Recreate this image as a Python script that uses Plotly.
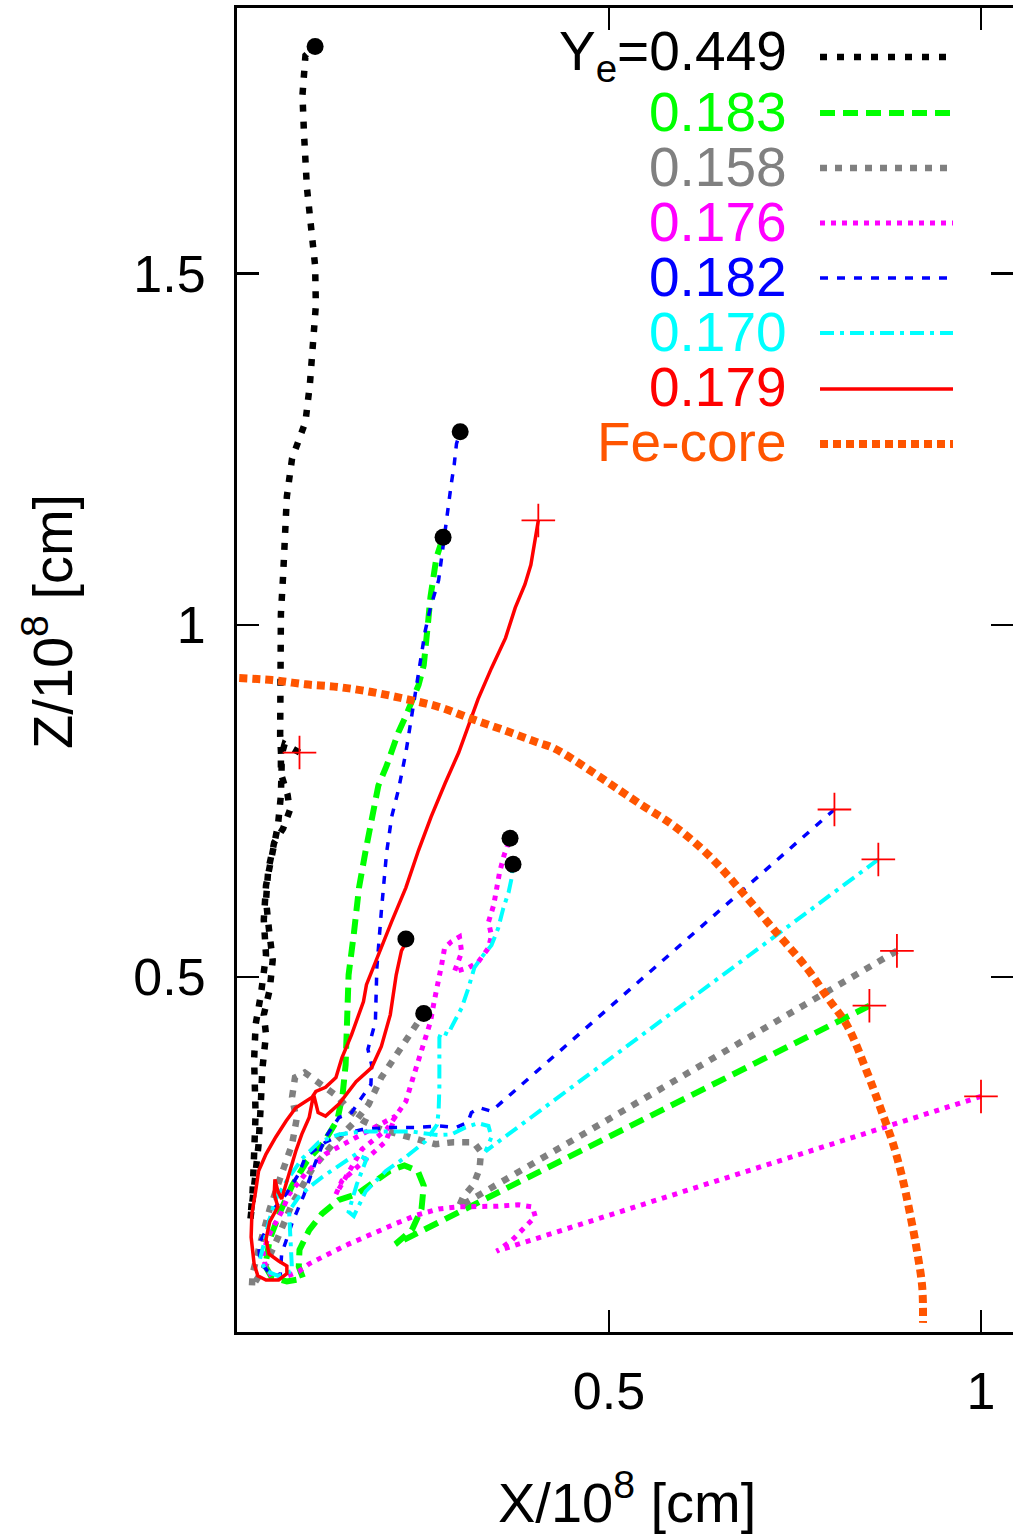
import plotly.graph_objects as go

# ---------------- data (units: 10^8 cm) ----------------
ye_labels = ["Y<sub>e</sub>=0.449", "0.183", "0.158", "0.176", "0.182", "0.170", "0.179"]

traj_0449 = [(0.084, 0.819), (0.064, 0.831), (0.059, 0.812), (0.059, 0.789), (0.068, 0.759), (0.071, 0.737),
             (0.062, 0.711), (0.050, 0.691), (0.042, 0.652), (0.039, 0.609), (0.043, 0.567), (0.048, 0.524),
             (0.044, 0.482), (0.036, 0.446), (0.039, 0.418), (0.034, 0.368), (0.032, 0.319), (0.029, 0.262),
             (0.024, 0.212), (0.020, 0.175), (0.018, 0.155), (0.021, 0.195), (0.023, 0.248), (0.025, 0.305),
             (0.023, 0.382), (0.025, 0.432), (0.032, 0.474), (0.039, 0.531), (0.036, 0.581), (0.039, 0.630),
             (0.047, 0.673), (0.055, 0.715), (0.059, 0.758), (0.060, 0.800), (0.058, 0.843), (0.058, 0.899),
             (0.058, 0.960), (0.059, 1.016), (0.062, 1.071), (0.064, 1.126), (0.067, 1.183), (0.074, 1.237),
             (0.092, 1.289), (0.098, 1.343), (0.102, 1.395), (0.106, 1.455), (0.105, 1.511), (0.099, 1.565),
             (0.094, 1.622), (0.090, 1.700), (0.088, 1.754), (0.092, 1.810), (0.105, 1.823)]

traj_0183 = [(0.850, 0.459), (0.213, 0.120), (0.235, 0.140), (0.248, 0.170), (0.251, 0.203), (0.243, 0.224),
             (0.225, 0.232), (0.205, 0.224), (0.184, 0.208), (0.161, 0.191), (0.137, 0.183), (0.114, 0.163),
             (0.097, 0.140), (0.084, 0.112), (0.083, 0.088), (0.089, 0.071), (0.067, 0.067), (0.047, 0.072),
             (0.038, 0.089), (0.044, 0.127), (0.058, 0.166), (0.074, 0.203), (0.094, 0.238), (0.117, 0.265),
             (0.135, 0.297), (0.142, 0.333), (0.146, 0.375), (0.147, 0.436), (0.150, 0.503), (0.157, 0.561),
             (0.164, 0.627), (0.173, 0.680), (0.181, 0.724), (0.190, 0.772), (0.201, 0.800), (0.208, 0.824),
             (0.217, 0.848), (0.227, 0.871), (0.235, 0.891), (0.244, 0.915), (0.251, 0.943), (0.255, 0.977),
             (0.257, 1.006), (0.260, 1.040), (0.264, 1.072), (0.268, 1.096), (0.277, 1.125)]

traj_0158 = [(0.887, 0.537), (0.311, 0.181), (0.298, 0.173), (0.304, 0.187), (0.318, 0.205), (0.326, 0.227),
             (0.328, 0.251), (0.318, 0.265), (0.291, 0.265), (0.267, 0.262), (0.244, 0.269), (0.219, 0.276),
             (0.194, 0.283), (0.170, 0.295), (0.150, 0.312), (0.135, 0.330), (0.111, 0.350), (0.091, 0.364),
             (0.078, 0.357), (0.074, 0.329), (0.080, 0.297), (0.074, 0.262), (0.060, 0.220), (0.044, 0.170),
             (0.031, 0.120), (0.021, 0.078), (0.020, 0.059), (0.036, 0.085), (0.054, 0.127), (0.074, 0.177),
             (0.101, 0.227), (0.131, 0.265), (0.161, 0.297), (0.177, 0.319), (0.194, 0.357), (0.212, 0.385),
             (0.227, 0.408), (0.240, 0.428), (0.251, 0.448)]

traj_0176 = [(1.000, 0.330), (0.349, 0.110), (0.369, 0.125), (0.387, 0.143), (0.401, 0.159), (0.397, 0.173),
             (0.378, 0.176), (0.351, 0.174), (0.324, 0.174), (0.298, 0.173), (0.271, 0.170), (0.241, 0.161),
             (0.213, 0.149), (0.181, 0.135), (0.150, 0.120), (0.123, 0.106), (0.097, 0.092), (0.083, 0.081),
             (0.066, 0.074), (0.047, 0.074), (0.038, 0.089), (0.035, 0.109), (0.044, 0.135), (0.060, 0.166),
             (0.070, 0.191), (0.092, 0.220), (0.119, 0.248), (0.150, 0.266), (0.181, 0.283), (0.213, 0.302),
             (0.200, 0.266), (0.181, 0.248), (0.160, 0.229), (0.141, 0.210), (0.133, 0.191), (0.168, 0.255),
             (0.201, 0.283), (0.227, 0.323), (0.235, 0.351), (0.244, 0.380), (0.253, 0.408), (0.260, 0.436),
             (0.265, 0.465), (0.271, 0.493), (0.275, 0.517), (0.279, 0.541), (0.288, 0.550), (0.299, 0.557),
             (0.302, 0.535), (0.292, 0.507), (0.311, 0.513), (0.324, 0.521), (0.338, 0.541), (0.342, 0.559),
             (0.338, 0.578), (0.345, 0.602), (0.349, 0.626), (0.353, 0.649), (0.359, 0.673), (0.367, 0.697)]

traj_0182 = [(0.803, 0.738), (0.342, 0.309), (0.326, 0.314), (0.315, 0.307), (0.310, 0.293), (0.295, 0.286),
             (0.271, 0.288), (0.244, 0.286), (0.208, 0.286), (0.168, 0.283), (0.141, 0.276), (0.119, 0.265),
             (0.092, 0.244), (0.083, 0.220), (0.066, 0.191), (0.047, 0.167), (0.039, 0.139), (0.029, 0.120),
             (0.031, 0.095), (0.044, 0.078), (0.058, 0.075), (0.060, 0.106), (0.074, 0.150), (0.090, 0.190),
             (0.105, 0.235), (0.119, 0.272), (0.137, 0.300), (0.154, 0.307), (0.168, 0.329), (0.180, 0.347),
             (0.181, 0.375), (0.176, 0.397), (0.186, 0.436), (0.188, 0.513), (0.194, 0.593), (0.201, 0.676),
             (0.208, 0.728), (0.217, 0.766), (0.227, 0.819), (0.235, 0.871), (0.244, 0.933), (0.253, 0.992),
             (0.260, 1.025), (0.271, 1.064), (0.275, 1.096), (0.284, 1.173), (0.288, 1.201), (0.292, 1.229),
             (0.295, 1.258), (0.300, 1.275)]

traj_0170 = [(0.862, 0.667), (0.334, 0.252), (0.342, 0.272), (0.338, 0.288), (0.324, 0.292), (0.307, 0.286),
             (0.288, 0.276), (0.271, 0.275), (0.235, 0.280), (0.200, 0.280), (0.168, 0.280), (0.137, 0.276),
             (0.110, 0.265), (0.087, 0.241), (0.068, 0.212), (0.052, 0.184), (0.043, 0.153), (0.036, 0.120),
             (0.031, 0.099), (0.039, 0.082), (0.055, 0.075), (0.074, 0.082), (0.072, 0.120), (0.070, 0.167),
             (0.083, 0.187), (0.097, 0.201), (0.114, 0.215), (0.141, 0.234), (0.160, 0.248), (0.174, 0.241),
             (0.161, 0.205), (0.150, 0.166), (0.157, 0.160), (0.173, 0.195), (0.200, 0.224), (0.227, 0.244),
             (0.253, 0.266), (0.269, 0.290), (0.271, 0.309), (0.272, 0.343), (0.272, 0.380), (0.272, 0.414),
             (0.275, 0.422), (0.284, 0.418), (0.288, 0.428), (0.302, 0.456), (0.311, 0.484), (0.319, 0.513),
             (0.328, 0.527), (0.342, 0.545), (0.351, 0.569), (0.358, 0.598), (0.365, 0.620), (0.369, 0.640),
             (0.371, 0.660)]

traj_0179 = [(0.405, 1.149), (0.402, 1.130), (0.395, 1.086), (0.387, 1.058), (0.374, 1.025), (0.361, 0.982),
             (0.342, 0.939), (0.324, 0.895), (0.298, 0.819), (0.280, 0.776), (0.261, 0.728), (0.244, 0.680),
             (0.227, 0.627), (0.208, 0.579), (0.190, 0.533), (0.174, 0.489), (0.170, 0.465), (0.160, 0.436),
             (0.154, 0.418), (0.141, 0.385), (0.133, 0.357), (0.119, 0.343), (0.106, 0.337), (0.101, 0.329),
             (0.079, 0.314), (0.066, 0.295), (0.052, 0.272), (0.039, 0.248), (0.029, 0.224), (0.025, 0.195),
             (0.020, 0.163), (0.019, 0.130), (0.023, 0.092), (0.028, 0.075), (0.039, 0.069), (0.056, 0.069),
             (0.067, 0.078), (0.067, 0.089), (0.056, 0.096), (0.043, 0.106), (0.039, 0.127), (0.044, 0.152),
             (0.055, 0.173), (0.050, 0.191), (0.051, 0.212), (0.055, 0.195), (0.060, 0.184), (0.070, 0.220),
             (0.079, 0.252), (0.087, 0.276), (0.097, 0.300), (0.103, 0.333), (0.109, 0.307), (0.119, 0.302),
             (0.137, 0.319), (0.160, 0.351), (0.181, 0.371), (0.194, 0.401), (0.206, 0.446), (0.214, 0.503),
             (0.221, 0.537), (0.225, 0.545), (0.227, 0.554)]

fe_core = [(0.003, 0.925), (0.047, 0.922), (0.092, 0.916), (0.137, 0.912), (0.181, 0.905), (0.227, 0.895),
           (0.271, 0.884), (0.315, 0.867), (0.361, 0.850), (0.405, 0.833), (0.428, 0.824), (0.543, 0.745),
           (0.587, 0.715), (0.633, 0.674), (0.677, 0.623), (0.721, 0.568), (0.767, 0.511), (0.794, 0.470),
           (0.820, 0.431), (0.847, 0.364), (0.865, 0.313), (0.882, 0.262), (0.895, 0.211), (0.905, 0.161),
           (0.914, 0.110), (0.921, 0.059), (0.922, 0.008)]

x_tickvals = [0.5, 1.0]
x_ticktext = ["0.5", "1"]
y_tickvals = [0.5, 1.0, 1.5]
y_ticktext = ["0.5", "1", "1.5"]

# ---------------- styles ----------------
trajectories = [traj_0449, traj_0183, traj_0158, traj_0176, traj_0182, traj_0170, traj_0179]
colors = ["#000000", "#00ff00", "#808080", "#ff00ff", "#0000ff", "#00ffff", "#ff0000"]
widths = [6.5, 6, 6.5, 5, 3.5, 4, 3.5]
dashes = ["7px,10px", "15px,8px", "7px,8px", "5px,6px", "8px,9px", "14px,6px,4px,6px", "solid"]
fe_color = "#ff5500"
FONT = "Liberation Sans, Arial, Helvetica, sans-serif"

W, H = 1013, 1539
ML, MR, MT, MB = 237, 0, 8, 207
PW, PH = W - ML - MR, H - MT - MB
X_SCALE, Y_SCALE = 744.0, 707.0          # pixels per unit
Y0_PX = 1335.5                           # pixel row of Z = 0
X_RANGE = [0, PW / X_SCALE]
Y_RANGE = [-(Y0_PX - (MT + PH)) / Y_SCALE, (Y0_PX - MT) / Y_SCALE]


def px_x(p):  # pixel column -> paper fraction
    return (p - ML) / PW


def px_y(p):  # pixel row -> paper fraction
    return ((MT + PH) - p) / PH


fig = go.Figure()

for traj, c, w, d in zip(trajectories, colors, widths, dashes):
    xs, ys = zip(*traj)
    fig.add_trace(go.Scatter(x=xs, y=ys, mode="lines", line=dict(color=c, width=w, dash=d),
                             showlegend=False, hoverinfo="skip"))

fx, fy = zip(*fe_core)
fig.add_trace(go.Scatter(x=fx, y=fy, mode="lines",
                         line=dict(color=fe_color, width=8, dash="8px,5px", shape="spline"),
                         showlegend=False, hoverinfo="skip"))

# start points (+) and end points (filled dots)
fig.add_trace(go.Scatter(x=[t[0][0] for t in trajectories], y=[t[0][1] for t in trajectories], mode="markers",
                         marker=dict(symbol="cross-thin", size=24, line=dict(color="#ff0000", width=1.8)),
                         showlegend=False, hoverinfo="skip"))
fig.add_trace(go.Scatter(x=[t[-1][0] for t in trajectories], y=[t[-1][1] for t in trajectories], mode="markers",
                         marker=dict(symbol="circle", size=17, color="#000000"),
                         showlegend=False, hoverinfo="skip", yaxis="y2"))

# ---------------- legend (gnuplot style: text then sample) ----------------
leg_labels = ye_labels + ["Fe-core"]
leg_colors = colors + [fe_color]
leg_widths = widths + [8]
leg_dashes = dashes + ["8px,5px"]
row_text_y = [55, 112, 167, 222, 277, 332, 387, 442]
row_line_y = [57, 113, 168, 223, 278, 333, 389, 444]
for lab, c, w, d, ty, ly in zip(leg_labels, leg_colors, leg_widths, leg_dashes, row_text_y, row_line_y):
    fig.add_annotation(x=px_x(789), y=px_y(ty), xref="paper", yref="paper", text=lab, showarrow=False,
                       xanchor="right", yanchor="middle", font=dict(family=FONT, size=55, color=c))
    fig.add_shape(type="line", xref="paper", yref="paper", x0=px_x(820), x1=px_x(953), y0=px_y(ly), y1=px_y(ly),
                  line=dict(color=c, width=w, dash=d))

# axis titles
fig.add_annotation(x=px_x(627), y=px_y(1498), xref="paper", yref="paper", text="X/10<sup>8</sup> [cm]",
                   showarrow=False, xanchor="center", yanchor="middle", font=dict(family=FONT, size=56, color="black"))
fig.add_annotation(x=px_x(48), y=px_y(622), xref="paper", yref="paper", text="Z/10<sup>8</sup> [cm]",
                   showarrow=False, xanchor="center", yanchor="middle", textangle=-90,
                   font=dict(family=FONT, size=56, color="black"))

axis_common = dict(showgrid=False, zeroline=False, ticks="inside", ticklen=22, tickwidth=2.5, tickcolor="black",
                   tickfont=dict(family=FONT, size=52, color="black"), automargin=False)
fig.update_layout(
    width=W, height=H, margin=dict(l=ML, r=MR, t=MT, b=MB, pad=0),
    paper_bgcolor="white", plot_bgcolor="white",
    xaxis=dict(range=X_RANGE, tickvals=x_tickvals, ticktext=x_ticktext, showline=True, linecolor="black",
               linewidth=3, mirror="ticks", ticklabelstandoff=12, **axis_common),
    yaxis=dict(range=Y_RANGE, tickvals=y_tickvals, ticktext=y_ticktext, showline=True, linecolor="black",
               linewidth=3, mirror=False, ticklabelstandoff=18, **axis_common),
    yaxis2=dict(range=Y_RANGE, tickvals=y_tickvals, showticklabels=False, overlaying="y", side="right",
                showline=False, **axis_common),
)

# remove the browser's default 8px page margin so the figure fills the window exactly
fig.write_html("out.html", config={"displayModeBar": False, "staticPlot": True},
               post_script="document.body.style.margin='0px';document.body.style.overflow='hidden';")
